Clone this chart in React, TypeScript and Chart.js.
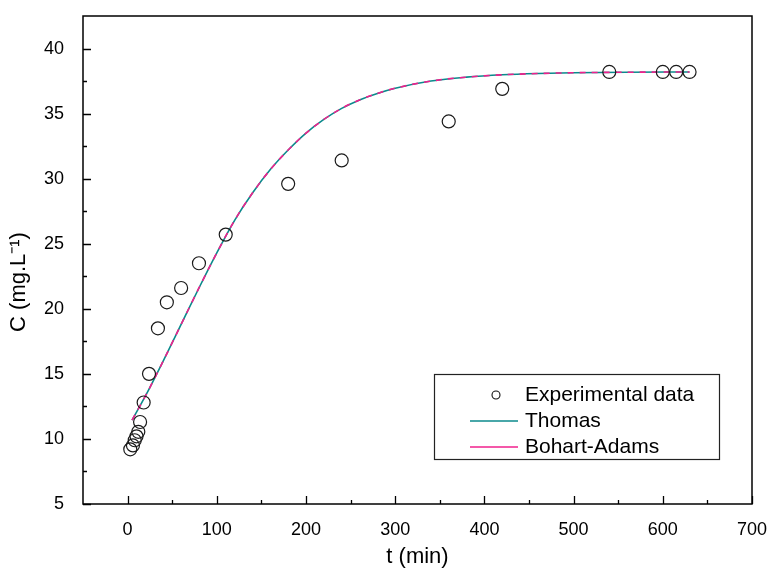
import React, { useEffect, useRef } from "react";
import { Chart, registerables } from "chart.js";

Chart.register(...registerables);

// ---- data ----
const expTime = [3, 6, 8, 10, 12, 14, 18, 24, 34, 44, 60, 80, 110, 180, 240, 360, 420, 540, 600, 615, 630];
const expConc = [9.2, 9.5, 9.9, 10.2, 10.55, 11.3, 12.8, 15.0, 18.5, 20.5, 21.6, 23.5, 25.7, 29.6, 31.4, 34.4, 36.9, 38.2, 38.2, 38.2, 38.2];

const fitTime = [5, 20, 40, 60, 80, 100, 120, 140, 160, 180, 200, 220, 240, 260, 280, 300, 340, 380, 420, 460, 500, 560, 630];
const thomasConc = [11.45, 13.3, 16.0, 18.8, 21.6, 24.3, 26.8, 28.9, 30.7, 32.2, 33.5, 34.55, 35.4, 36.05, 36.55, 36.95, 37.5, 37.8, 37.98, 38.08, 38.14, 38.18, 38.2];
const bohartConc = [11.45, 13.3, 16.0, 18.8, 21.6, 24.3, 26.8, 28.9, 30.7, 32.2, 33.5, 34.55, 35.4, 36.05, 36.55, 36.95, 37.5, 37.8, 37.98, 38.08, 38.14, 38.18, 38.2];

const xTicks = [0, 100, 200, 300, 400, 500, 600, 700];
const xMinorTicks = [50, 150, 250, 350, 450, 550, 650];
const yTicks = [5, 10, 15, 20, 25, 30, 35, 40];
const yMinorTicks = [7.5, 12.5, 17.5, 22.5, 27.5, 32.5, 37.5];

const seriesLabels = ["Experimental data", "Thomas", "Bohart-Adams"];
const xTitle = "t (min)";
const yTitle = "C (mg.L\u207B\u00B9)";

const TEAL = "#0b8a8c";
const PINK = "#f0208c";
const FONT = "'Liberation Sans', Arial, sans-serif";

const framePlugin = {
  id: "frame",
  afterDraw(chart: any) {
    const { ctx, chartArea: a, scales } = chart;
    const xs = scales.x;
    const ys = scales.y;
    ctx.save();
    ctx.strokeStyle = "#000";
    ctx.lineWidth = 1.5;
    ctx.strokeRect(a.left, a.top, a.right - a.left, a.bottom - a.top);
    ctx.lineWidth = 1.3;
    ctx.beginPath();
    xTicks.forEach((v) => {
      const px = Math.round(xs.getPixelForValue(v)) + 0.5;
      ctx.moveTo(px, a.bottom);
      ctx.lineTo(px, a.bottom - 8);
    });
    xMinorTicks.forEach((v) => {
      const px = Math.round(xs.getPixelForValue(v)) + 0.5;
      ctx.moveTo(px, a.bottom);
      ctx.lineTo(px, a.bottom - 4);
    });
    yTicks.forEach((v) => {
      const py = Math.round(ys.getPixelForValue(v)) + 0.5;
      ctx.moveTo(a.left, py);
      ctx.lineTo(a.left + 8, py);
    });
    yMinorTicks.forEach((v) => {
      const py = Math.round(ys.getPixelForValue(v)) + 0.5;
      ctx.moveTo(a.left, py);
      ctx.lineTo(a.left + 4, py);
    });
    ctx.stroke();

    // axis titles
    ctx.fillStyle = "#000";
    ctx.font = `22px ${FONT}`;
    ctx.textAlign = "center";
    ctx.textBaseline = "middle";
    ctx.fillText(xTitle, (a.left + a.right) / 2, 557);
    ctx.save();
    ctx.translate(19, 282);
    ctx.rotate(-Math.PI / 2);
    ctx.fillText(yTitle, 0, 0);
    ctx.restore();

    // legend
    const lx = 434, ly = 374, lw = 285, lh = 85;
    ctx.fillStyle = "#fff";
    ctx.fillRect(lx, ly, lw, lh);
    ctx.strokeStyle = "#222";
    ctx.lineWidth = 1.2;
    ctx.strokeRect(lx + 0.5, ly + 0.5, lw, lh);
    ctx.textAlign = "left";
    ctx.font = `21px ${FONT}`;
    const rows = [395, 421, 447];
    ctx.beginPath();
    ctx.arc(496, rows[0], 4, 0, Math.PI * 2);
    ctx.strokeStyle = "#111";
    ctx.lineWidth = 1.1;
    ctx.stroke();
    ctx.lineWidth = 1.5;
    ctx.strokeStyle = TEAL;
    ctx.beginPath();
    ctx.moveTo(470, rows[1]);
    ctx.lineTo(518, rows[1]);
    ctx.stroke();
    ctx.strokeStyle = PINK;
    ctx.beginPath();
    ctx.moveTo(470, rows[2]);
    ctx.lineTo(518, rows[2]);
    ctx.stroke();
    ctx.fillStyle = "#000";
    seriesLabels.forEach((t, i) => ctx.fillText(t, 525, rows[i]));
    ctx.restore();
  },
};

export default function App() {
  const ref = useRef<HTMLCanvasElement | null>(null);
  useEffect(() => {
    if (!ref.current) return;
    const chart = new Chart(ref.current, {
      type: "scatter",
      data: {
        datasets: [
          {
            label: seriesLabels[0],
            data: expTime.map((t, i) => ({ x: t, y: expConc[i] })),
            showLine: false,
            pointStyle: "circle",
            pointRadius: 6.5,
            pointBorderWidth: 1.2,
            pointBorderColor: "#1a1a1a",
            pointBackgroundColor: "rgba(0,0,0,0)",
            order: 0,
          },
          {
            label: seriesLabels[2],
            data: fitTime.map((t, i) => ({ x: t, y: bohartConc[i] })),
            showLine: true,
            borderColor: PINK,
            borderWidth: 1.6,
            borderDash: [6, 6],
            pointRadius: 0,
            cubicInterpolationMode: "monotone",
            order: 1,
          },
          {
            label: seriesLabels[1],
            data: fitTime.map((t, i) => ({ x: t, y: thomasConc[i] })),
            showLine: true,
            borderColor: TEAL,
            borderWidth: 1.6,
            pointRadius: 0,
            cubicInterpolationMode: "monotone",
            order: 2,
          },
        ],
      },
      options: {
        responsive: false,
        animation: false,
        layout: { padding: { top: 16, right: 19, left: 0, bottom: 0 } },
        plugins: { legend: { display: false }, tooltip: { enabled: false } },
        scales: {
          x: {
            type: "linear",
            min: -50,
            max: 700,
            grid: { display: false },
            border: { display: false },
            afterBuildTicks: (s: any) => {
              s.ticks = xTicks.map((v) => ({ value: v }));
            },
            afterFit: (s: any) => {
              s.height = 68;
              s.paddingLeft = 0;
              s.paddingRight = 0;
            },
            ticks: {
              color: "#000",
              font: { family: FONT, size: 18 },
              padding: 7,
              maxRotation: 0,
            },
          },
          y: {
            type: "linear",
            min: 5,
            max: 42.5,
            grid: { display: false },
            border: { display: false },
            afterBuildTicks: (s: any) => {
              s.ticks = yTicks.map((v) => ({ value: v }));
            },
            afterFit: (s: any) => {
              s.width = 83;
              s.paddingTop = 0;
              s.paddingBottom = 0;
            },
            ticks: {
              color: "#000",
              font: { family: FONT, size: 18 },
              padding: 11,
            },
          },
        },
      },
      plugins: [framePlugin],
    });
    return () => chart.destroy();
  }, []);
  return (
    <div style={{ position: "absolute", left: 0, top: 0, width: 771, height: 572, background: "#fff" }}>
      <canvas ref={ref} width={771} height={572} />
    </div>
  );
}
